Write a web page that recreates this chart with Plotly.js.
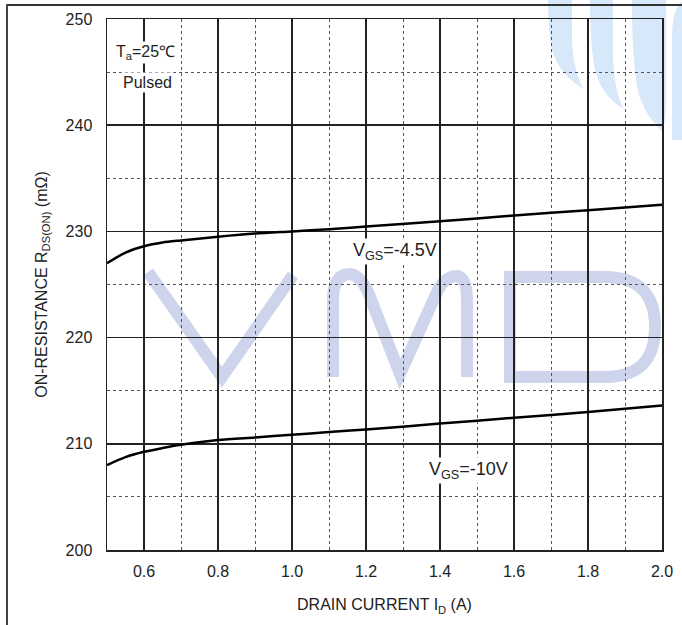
<!DOCTYPE html>
<html>
<head>
<meta charset="utf-8">
<script src="https://cdn.plot.ly/plotly-3.0.1.min.js"></script>
<style>
html,body{margin:0;padding:0;background:#fff;}
#wrap{position:relative;width:682px;height:625px;overflow:hidden;}
#chart{width:682px;height:625px;}
#frameTop{position:absolute;left:6px;top:4px;width:676px;height:2px;background:#333;z-index:10;pointer-events:none;}
#frameLeft{position:absolute;left:6px;top:4px;width:2px;height:621px;background:#444;z-index:10;pointer-events:none;}
</style>
</head>
<body>
<div id="wrap"><div id="chart"></div><div id="frameTop"></div><div id="frameLeft"></div></div>
<script>
// Data
const drainCurrent = [0.5, 0.55, 0.6, 0.65, 0.7, 0.8, 0.9, 1.0, 1.1, 1.2, 1.4, 1.6, 1.8, 2.0];
const rdsVgs45 = [227.0, 228.0, 228.6, 228.95, 229.15, 229.5, 229.8, 230.0, 230.2, 230.45, 230.95, 231.5, 232.0, 232.5];
const rdsVgs10 = [208.0, 208.75, 209.25, 209.6, 209.9, 210.35, 210.6, 210.85, 211.1, 211.35, 211.9, 212.45, 213.0, 213.6];
const seriesNames = ['V<sub>GS</sub>=-4.5V', 'V<sub>GS</sub>=-10V'];
const xTicks = [0.6, 0.8, 1.0, 1.2, 1.4, 1.6, 1.8, 2.0];
const xTickText = ['0.6', '0.8', '1.0', '1.2', '1.4', '1.6', '1.8', '2.0'];
const yTicks = [200, 210, 220, 230, 240, 250];

// pixel-to-paper helpers for decorative watermark
const L = 107, R = 662, T = 19, B = 550;
const px = v => ((v - L) / (R - L)).toFixed(4);
const py = v => ((B - v) / (B - T)).toFixed(4);
function path(cmds) {
  return cmds.map(c => {
    if (c[0] === 'Z') return 'Z';
    const op = c[0]; const pts = c.slice(1);
    let s = op;
    for (let i = 0; i < pts.length; i += 2) s += ' ' + px(pts[i]) + ',' + py(pts[i + 1]);
    return s;
  }).join(' ');
}
const wmColor = '#cdd4ec';
const blue = '#d6e8fa';
const shapes = [
  {type: 'path', xref: 'paper', yref: 'paper', layer: 'below', line: {color: wmColor, width: 12},
   path: path([['M', 148, 272], ['L', 222, 377], ['L', 293, 275]])},
  {type: 'path', xref: 'paper', yref: 'paper', layer: 'below', line: {color: wmColor, width: 12},
   path: path([['M', 333, 377], ['L', 333, 300], ['Q', 333, 274, 350, 274], ['Q', 360, 275, 368, 292], ['L', 400, 374], ['L', 438, 290], ['Q', 446, 276, 457, 276], ['Q', 467, 278, 467, 300], ['L', 467, 377]])},
  {type: 'path', xref: 'paper', yref: 'paper', layer: 'below', line: {color: wmColor, width: 12},
   path: path([['M', 510, 377], ['L', 510, 277], ['L', 605, 277], ['Q', 655, 277, 655, 327], ['Q', 655, 377, 605, 377], ['Z']])},
  {type: 'path', xref: 'paper', yref: 'paper', layer: 'below', line: {width: 0}, fillcolor: blue,
   path: path([['M', 548, 0], ['L', 572, 0], ['L', 572, 40], ['Q', 574, 75, 584, 89], ['Q', 560, 76, 552, 50], ['Q', 548, 30, 548, 0], ['Z']])},
  {type: 'path', xref: 'paper', yref: 'paper', layer: 'below', line: {width: 0}, fillcolor: blue,
   path: path([['M', 590, 0], ['L', 613, 0], ['L', 613, 60], ['Q', 615, 95, 624, 109], ['Q', 600, 96, 594, 65], ['Q', 590, 40, 590, 0], ['Z']])},
  {type: 'path', xref: 'paper', yref: 'paper', layer: 'below', line: {width: 0}, fillcolor: blue,
   path: path([['M', 632, 0], ['L', 666, 0], ['L', 666, 80], ['Q', 667, 115, 663, 132], ['Q', 640, 112, 636, 80], ['Q', 632, 50, 632, 0], ['Z']])},
  {type: 'path', xref: 'paper', yref: 'paper', layer: 'below', line: {width: 0}, fillcolor: blue,
   path: path([['M', 682, 2], ['Q', 672, 8, 672, 40], ['L', 672, 140], ['L', 682, 140], ['Z']])}
];

const traces = [
  {x: drainCurrent, y: rdsVgs45, name: seriesNames[0], mode: 'lines', line: {color: '#000', width: 2.5, shape: 'spline', smoothing: 0.8}, hoverinfo: 'skip'},
  {x: drainCurrent, y: rdsVgs10, name: seriesNames[1], mode: 'lines', line: {color: '#000', width: 2.5, shape: 'spline', smoothing: 0.8}, hoverinfo: 'skip'}
];

const font = {family: 'Liberation Sans, Arial, sans-serif', size: 16, color: '#222'};
const annFont = {family: font.family, size: 18, color: '#222'};
const layout = {
  width: 682, height: 625,
  margin: {l: L, r: 682 - R, t: T, b: 625 - B},
  paper_bgcolor: '#fff', plot_bgcolor: 'rgba(0,0,0,0)',
  showlegend: false,
  font: font,
  xaxis: {
    range: [0.5, 2.0], tickvals: xTicks, ticktext: xTickText, ticks: '',
    showgrid: true, gridcolor: '#222', gridwidth: 1.5,
    minor: {dtick: 0.1, tick0: 0.5, showgrid: true, gridcolor: '#555', gridwidth: 1, griddash: 'dot'},
    showline: true, mirror: true, linecolor: '#222', linewidth: 1.5, zeroline: false,
    tickfont: font, ticklabelstandoff: 6,
    title: {text: 'DRAIN CURRENT I<sub>D</sub> (A)', font: font, standoff: 20},
    automargin: false, fixedrange: true
  },
  yaxis: {
    range: [200, 250], tickvals: yTicks, ticks: '',
    showgrid: true, gridcolor: '#222', gridwidth: 1.5,
    minor: {dtick: 5, tick0: 200, showgrid: true, gridcolor: '#555', gridwidth: 1, griddash: 'dot'},
    showline: true, mirror: true, linecolor: '#222', linewidth: 1.5, zeroline: false,
    tickfont: font, ticklabelstandoff: 10,
    title: {text: 'ON-RESISTANCE R<sub>DS(ON)</sub> (mΩ)', font: font, standoff: 14},
    automargin: false, fixedrange: true
  },
  shapes: shapes,
  annotations: [
    {x: 1.278, y: 228.1, xref: 'x', yref: 'y', text: seriesNames[0], showarrow: false, bgcolor: '#fff', borderpad: 1, font: annFont},
    {x: 1.478, y: 207.45, xref: 'x', yref: 'y', text: seriesNames[1], showarrow: false, bgcolor: '#fff', borderpad: 1, font: annFont},
    {x: 0.605, y: 246.85, xref: 'x', yref: 'y', text: 'T<sub>a</sub>=25℃', showarrow: false, bgcolor: '#fff', borderpad: 1, font: {family: font.family, size: 16, color: '#222'}},
    {x: 0.61, y: 244.0, xref: 'x', yref: 'y', text: 'Pulsed', showarrow: false, bgcolor: '#fff', borderpad: 1, font: {family: font.family, size: 16, color: '#222'}}
  ]
};

Plotly.newPlot('chart', traces, layout, {displayModeBar: false, staticPlot: true});
</script>
</body>
</html>
